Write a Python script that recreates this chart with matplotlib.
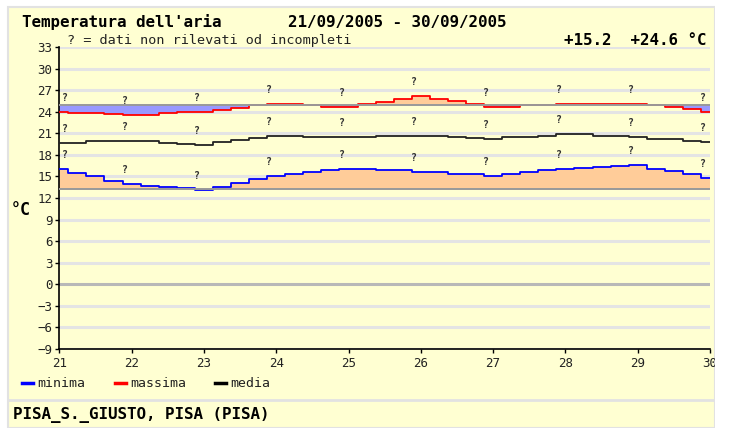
import numpy as np
import matplotlib.pyplot as plt
from matplotlib.patches import Rectangle
from matplotlib.lines import Line2D

# Daily temperatures, sampled every 6 hours from 21/09 to 30/09
days = np.linspace(21, 30, 37)
tmin = [16.0, 15.5, 15.0, 14.4, 13.9, 13.7, 13.5, 13.35, 13.05, 13.5, 14.15, 14.65, 15.1,
        15.4, 15.6, 15.9, 16.0, 16.0, 15.9, 15.9, 15.6, 15.6, 15.4, 15.3,
        15.1, 15.4, 15.6, 15.9, 16.0, 16.2, 16.3, 16.4, 16.6, 16.1, 15.8, 15.4, 14.8]
tmax = [24.0, 23.85, 23.85, 23.7, 23.6, 23.6, 23.85, 24.0, 24.0, 24.2, 24.55, 24.9, 25.1,
        25.05, 24.95, 24.75, 24.75, 25.1, 25.4, 25.8, 26.2, 25.8, 25.5, 25.1,
        24.75, 24.75, 24.95, 24.95, 25.1, 25.1, 25.1, 25.1, 25.1, 24.95, 24.7, 24.35, 24.0]
tmed = [19.7, 19.7, 19.9, 19.9, 19.9, 19.9, 19.65, 19.5, 19.4, 19.85, 20.1, 20.35, 20.7,
        20.7, 20.5, 20.45, 20.45, 20.45, 20.7, 20.7, 20.7, 20.7, 20.45, 20.3,
        20.2, 20.45, 20.45, 20.7, 20.95, 20.95, 20.7, 20.7, 20.45, 20.2, 20.2, 20.0, 19.75]

# reference values (normals) for min and max
norm_min = 13.3
norm_max = 24.95

day_ticks = list(range(21, 31))
y_ticks = list(range(-9, 34, 3))

YELLOW = '#FFFFD2'
MONO = 'DejaVu Sans Mono'
W, H = 729, 428


def fx(x):
    return x / W


def fy(y):
    return 1 - y / H


fig = plt.figure(figsize=(W / 100, H / 100), dpi=100)
fig.patch.set_facecolor('white')

# yellow panel with light border and footer separator
fig.add_artist(Rectangle((fx(8), 0), fx(715) - fx(8), fy(7), transform=fig.transFigure,
                         facecolor=YELLOW, edgecolor='#E2E2E2', lw=1.5, zorder=-5))
fig.add_artist(Line2D([fx(8), fx(715)], [fy(400), fy(400)], transform=fig.transFigure,
                      color='#E2E2E2', lw=2, zorder=-4))

ax = fig.add_axes([fx(59.3), fy(348.7), fx(710) - fx(59.3), fy(47.3) - fy(348.7)])
ax.set_facecolor('none')
ax.set_xlim(21, 30)
ax.set_ylim(-9, 33)

for v in y_ticks:
    ax.axhline(v, color='#B8B8B8' if v == 0 else '#E4E4E4', lw=2.2, zorder=1)

# fills against the normals: orange above, lavender below
for vals, norm in [(tmin, norm_min), (tmax, norm_max)]:
    vals = np.array(vals)
    ax.fill_between(days, norm, np.maximum(vals, norm), step='mid',
                    color='#FFCC99', lw=0, zorder=2)
    ax.fill_between(days, np.minimum(vals, norm), norm, step='mid',
                    color='#9999FF', lw=0, zorder=2)

ax.plot(days, tmin, drawstyle='steps-mid', color='#0000FF', lw=1.3, zorder=3)
ax.plot(days, tmax, drawstyle='steps-mid', color='#FF0000', lw=1.3, zorder=3)
ax.plot(days, tmed, drawstyle='steps-mid', color='#222222', lw=1.3, zorder=3)
ax.axhline(norm_min, color='#999999', lw=1.4, zorder=4)
ax.axhline(norm_max, color='#999999', lw=1.4, zorder=4)

# "?" flags for each day on each series
for series in (tmin, tmax, tmed):
    for d in day_ticks:
        i = list(days).index(d)
        dx = 6 if d == 21 else -7
        ax.annotate('?', xy=(d, series[i]), xytext=(dx, 14), textcoords='offset pixels',
                    ha='center', va='center', fontsize=7, family=MONO,
                    weight='bold', color='#333333', zorder=5)

for side in ('top', 'right'):
    ax.spines[side].set_visible(False)
for side in ('left', 'bottom'):
    ax.spines[side].set_color('black')
    ax.spines[side].set_linewidth(1.2)

ax.set_xticks(day_ticks)
ax.set_yticks(y_ticks)
ax.set_yticklabels([str(v).replace('-', '\u2212') for v in y_ticks])
ax.tick_params(direction='out', length=3, width=1, color='black', labelsize=9,
               labelcolor='#222222')
ax.tick_params(axis='y', pad=2)
ax.tick_params(axis='x', pad=3)
for lbl in ax.get_xticklabels() + ax.get_yticklabels():
    lbl.set_family(MONO)

# header texts
fig.text(fx(22), fy(27), "Temperatura dell'aria", family=MONO, weight='bold',
         size=11.4, va='baseline')
fig.text(fx(288), fy(27), "21/09/2005 - 30/09/2005", family=MONO, weight='bold',
         size=11.4, va='baseline')
fig.text(fx(67), fy(44), "? = dati non rilevati od incompleti", family=MONO,
         size=9.7, va='baseline', color='#222222')
fig.text(fx(706), fy(45), "+15.2  +24.6 °C", family=MONO, weight='bold',
         size=11.4, va='baseline', ha='right')
fig.text(fx(11), fy(215), "°C", family=MONO, weight='bold', size=12, va='baseline')

# legend
legend_items = [('minima', '#0000FF', 22), ('massima', '#FF0000', 115), ('media', '#000000', 215)]
for label, color, x0 in legend_items:
    fig.add_artist(Line2D([fx(x0), fx(x0 + 11)], [fy(383), fy(383)],
                          transform=fig.transFigure, color=color, lw=2.5))
    fig.text(fx(x0 + 15), fy(387), label, family=MONO, size=9.5, va='baseline',
             color='#222222')

# footer station name
fig.text(fx(13), fy(419), "PISA_S._GIUSTO, PISA (PISA)", family=MONO, weight='bold',
         size=11.4, va='baseline')

# white margin on the right trims the last tick label
fig.add_artist(Rectangle((fx(715), 0), 1 - fx(715), 1, transform=fig.transFigure,
                         facecolor='white', edgecolor='none', zorder=10))

fig.savefig('out.png', dpi=100, facecolor='white')
